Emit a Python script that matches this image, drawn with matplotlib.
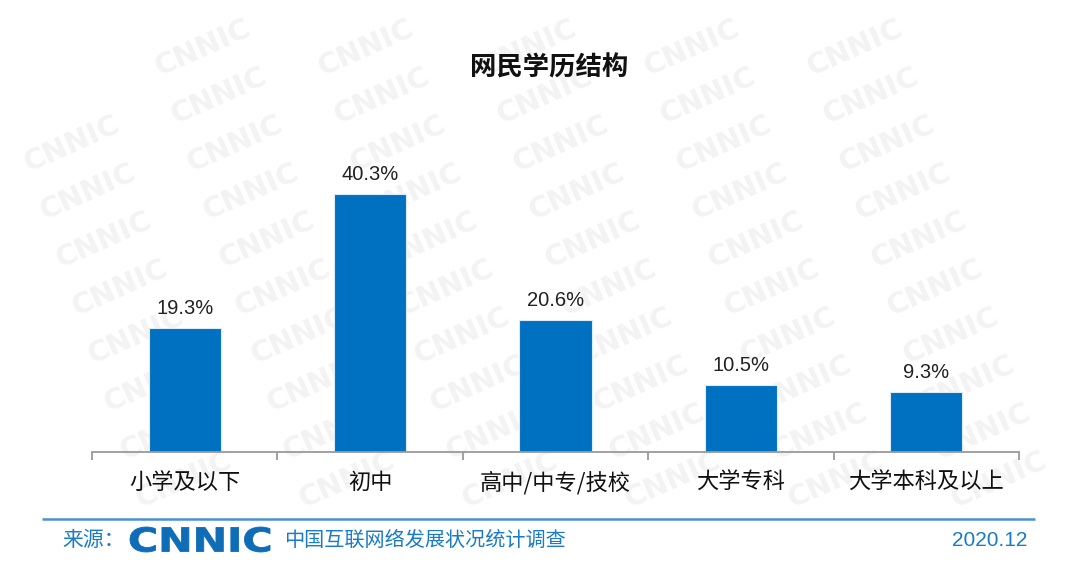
import matplotlib
matplotlib.use("Agg")
import matplotlib.pyplot as plt
import numpy as np
from matplotlib.textpath import TextPath
from matplotlib.patches import PathPatch
from matplotlib.font_manager import FontProperties
from matplotlib.transforms import Affine2D

plt.rcParams['font.family'] = ['Noto Sans CJK SC', 'DejaVu Sans']

categories = ["小学及以下", "初中", "高中/中专/技校", "大学专科", "大学本科及以上"]
values = [19.3, 40.3, 20.6, 10.5, 9.3]
value_labels = ["19.3%", "40.3%", "20.6%", "10.5%", "9.3%"]
title = "网民学历结构"
source_label = "来源："
logo_text = "CNNIC"
survey_text = "中国互联网络发展状况统计调查"
date_text = "2020.12"

bar_color = "#0070C0"
foot_color = "#1A7BC9"

W, H = 1080, 579
fig = plt.figure(figsize=(10.8, 5.79), dpi=100)
fig.patch.set_facecolor("white")

# pixel-coordinate overlay (y downward)
pax = fig.add_axes([0, 0, 1, 1], zorder=0)
pax.set_xlim(0, W)
pax.set_ylim(H, 0)
pax.axis("off")

# watermark grid (only fully visible marks)
for c in range(-2, 8):
    for r in range(0, 11):
        x = 40 + c * 163 + r * 16
        y = 48 + r * 48
        if 70 <= x <= 1010 and 35 <= y <= 505:
            pax.text(x, y, "CNNIC", fontsize=21, fontweight="bold", color="#F3F3F3",
                     rotation=24, ha="center", va="center", family="DejaVu Sans")

ax = fig.add_axes([92/W, 1 - 452/H, 927/W, (452-164)/H], zorder=2)
ax.patch.set_alpha(0)
x = np.arange(len(categories))
ax.bar(x, values, width=0.39, color=bar_color, edgecolor="#DDEBF7", linewidth=0.8)
ax.set_xlim(-0.5, len(categories) - 0.5)
ax.set_ylim(0, 45)
for xi, v, lab in zip(x, values, value_labels):
    ax.text(xi, v + 1.6, lab, ha="center", va="bottom", fontsize=14.5, color="#222222",
            family=["Liberation Sans"])

for s in ["top", "right", "left"]:
    ax.spines[s].set_visible(False)
ax.spines["bottom"].set_color("#9A9A9A")
ax.spines["bottom"].set_linewidth(1.3)
ax.set_yticks([])
ax.set_xticks(np.arange(-0.5, len(categories), 1.0))
ax.set_xticklabels([])
ax.tick_params(axis="x", length=6, width=1.3, color="#9A9A9A", direction="out")
for xi, c in zip(x, categories):
    ax.text(xi, -3.0, c, ha="center", va="top", fontsize=16, color="#111111")

fig.text(549/W, 1 - 68/H, title, ha="center", va="center", fontsize=19, fontweight="bold",
         color="#111111")

# footer
pax.plot([42, 1035], [519, 519], color="#4A90D9", linewidth=1.8, solid_capstyle="butt")
fy = 540
pax.text(62, fy, source_label, ha="left", va="center", fontsize=15, color=foot_color)
# logo drawn as a path fitted into its box
tp = TextPath((0, 0), logo_text, prop=FontProperties(family="DejaVu Sans", weight="heavy"), size=10)
ext = tp.get_extents()
x0, x1, y0, y1 = 130, 270, 527, 552
sx = (x1 - x0) / ext.width
sy = (y1 - y0) / ext.height
tr = Affine2D().translate(-ext.x0, -ext.y0).scale(sx, -sy).translate(x0, y1) + pax.transData
pax.add_patch(PathPatch(tp, transform=tr, facecolor="#0F6DB8", edgecolor="#0F6DB8", linewidth=0.6))
pax.text(284, fy, survey_text, ha="left", va="center", fontsize=14.5, color=foot_color)
pax.text(1027, fy, date_text, ha="right", va="center", fontsize=15, color=foot_color,
         family="Liberation Sans")

fig.savefig("out.png", dpi=100, facecolor="white")
